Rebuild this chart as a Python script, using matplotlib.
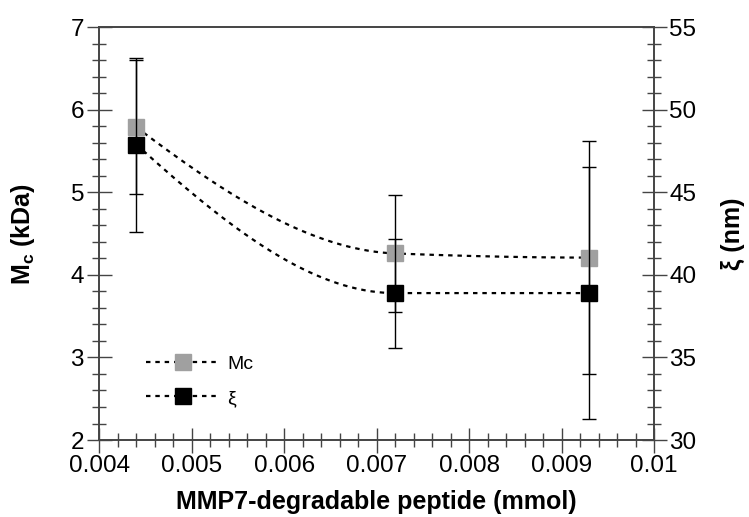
import numpy as np
import matplotlib
matplotlib.use("Agg")
import matplotlib.pyplot as plt
from matplotlib.ticker import MultipleLocator

plt.rcParams["font.family"] = ["Liberation Sans", "DejaVu Sans"]
plt.rcParams["mathtext.fontset"] = "custom"
plt.rcParams["mathtext.rm"] = "Liberation Sans"
plt.rcParams["mathtext.bf"] = "Liberation Sans:bold"

# 数据
peptide = [0.0044, 0.0072, 0.0093]          # mmol
mc_values = [5.79, 4.26, 4.21]               # kDa
mc_err = [0.81, 0.71, 1.41]
xi_values = [47.9, 38.9, 38.9]               # nm
xi_err = [5.27, 3.3, 7.65]


def pchip(x, y, xs):
    """单调三次插值, 只用来画平滑连线"""
    x = np.asarray(x, float)
    y = np.asarray(y, float)
    h = np.diff(x)
    d = np.diff(y) / h
    m = np.zeros_like(y)
    for k in range(1, len(x) - 1):
        if d[k - 1] * d[k] > 0:
            w1 = 2 * h[k] + h[k - 1]
            w2 = h[k] + 2 * h[k - 1]
            m[k] = (w1 + w2) / (w1 / d[k - 1] + w2 / d[k])
    m[0] = ((2 * h[0] + h[1]) * d[0] - h[0] * d[1]) / (h[0] + h[1])
    if np.sign(m[0]) != np.sign(d[0]):
        m[0] = 0
    m[-1] = ((2 * h[-1] + h[-2]) * d[-1] - h[-1] * d[-2]) / (h[-1] + h[-2])
    if np.sign(m[-1]) != np.sign(d[-1]):
        m[-1] = 0
    out = np.empty_like(xs)
    for i, xv in enumerate(xs):
        k = min(np.searchsorted(x, xv, side="right") - 1, len(x) - 2)
        t = (xv - x[k]) / h[k]
        h00 = 2 * t**3 - 3 * t**2 + 1
        h10 = t**3 - 2 * t**2 + t
        h01 = -2 * t**3 + 3 * t**2
        h11 = t**3 - t**2
        out[i] = h00 * y[k] + h10 * h[k] * m[k] + h01 * y[k + 1] + h11 * h[k] * m[k + 1]
    return out


fig = plt.figure(figsize=(7.49, 5.17), dpi=100)
ax = fig.add_axes([0.1326, 0.1489, 0.7406, 0.7983])
ax2 = ax.twinx()

xs = np.linspace(peptide[0], peptide[-1], 200)
dash = (0, (2.0, 2.2))

ax.plot(xs, pchip(peptide, mc_values, xs), color="black", lw=1.6, linestyle=dash, zorder=2)
ax.errorbar(peptide, mc_values, yerr=mc_err, fmt="none", ecolor="black",
            elinewidth=1.0, capsize=5, capthick=1.0, zorder=3)
ax.plot(peptide, mc_values, "s", color="#a0a0a0", markersize=11, zorder=4)

ax2.plot(xs, pchip(peptide, xi_values, xs), color="black", lw=1.6, linestyle=dash, zorder=2)
ax2.errorbar(peptide, xi_values, yerr=xi_err, fmt="none", ecolor="black",
             elinewidth=1.0, capsize=5, capthick=1.0, zorder=3)
ax2.plot(peptide, xi_values, "s", color="black", markersize=11, zorder=4)

ax.set_xlim(0.004, 0.01)
ax.set_ylim(2, 7)
ax2.set_ylim(30, 55)

ax.xaxis.set_major_locator(MultipleLocator(0.001))
ax.xaxis.set_minor_locator(MultipleLocator(0.0002))
ax.yaxis.set_major_locator(MultipleLocator(1))
ax.yaxis.set_minor_locator(MultipleLocator(0.2))
ax2.yaxis.set_major_locator(MultipleLocator(5))
ax2.yaxis.set_minor_locator(MultipleLocator(1))
ax.set_xticks([0.004, 0.005, 0.006, 0.007, 0.008, 0.009, 0.01])
ax.set_xticklabels(["0.004", "0.005", "0.006", "0.007", "0.008", "0.009", "0.01"])

axis_color = "#444444"
for a in (ax, ax2):
    for s in a.spines.values():
        s.set_color(axis_color)
        s.set_linewidth(1.2)
    a.tick_params(which="major", direction="inout", length=18, width=1.0,
                  color=axis_color, labelsize=17.5, pad=2)
    a.tick_params(which="minor", direction="inout", length=10, width=1.0,
                  color=axis_color)
ax.tick_params(axis="x", which="both", top=False)
ax.tick_params(axis="y", which="both", right=False)

ax.set_xlabel("MMP7-degradable peptide (mmol)", fontsize=18, fontweight="bold", labelpad=9)
ax.set_ylabel(r"M$_\mathbf{c}$ (kDa)", fontsize=18, fontweight="bold", labelpad=24)
ax2.set_ylabel("ξ (nm)", fontsize=18, fontweight="bold", labelpad=18)

# 图例
h1, = ax.plot([], [], "s", color="black", markersize=11, linestyle=dash, lw=1.6,
              markerfacecolor="#a0a0a0", markeredgecolor="#a0a0a0")
h2, = ax.plot([], [], "s", color="black", markersize=11, linestyle=dash, lw=1.6)
ax.legend([h1, h2], ["Mc", "ξ"], loc="lower left", bbox_to_anchor=(0.052, 0.038),
          frameon=False, fontsize=14, handlelength=3.8, labelspacing=0.85,
          handletextpad=0.4)

fig.savefig("out.png", dpi=100)
